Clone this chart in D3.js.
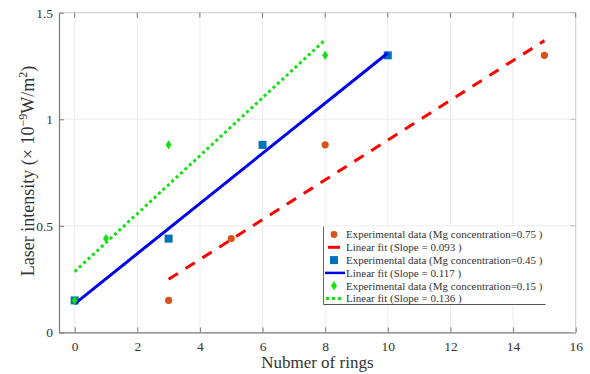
<!DOCTYPE html>
<html><head><meta charset="utf-8">
<script src="https://cdn.jsdelivr.net/npm/d3@7"></script>
<style>body{margin:0;background:#fff} svg text{font-family:"Liberation Serif","DejaVu Serif",serif !important;}</style>
</head><body>
<svg id="c" width="590" height="374"></svg>
<script>
// ---- data ----
const xTicks = [0, 2, 4, 6, 8, 10, 12, 14, 16];
const yTicks = [0, 0.5, 1, 1.5];
const yTickLabels = ["0", "0.5", "1", "1.5"];

const rings075 = [3, 5, 8, 15];
const inten075 = [0.15, 0.44, 0.88, 1.30];
const fit075X = [3, 15];
const fit075Y = [0.249, 1.369];

const rings045 = [0, 3, 6, 10];
const inten045 = [0.15, 0.44, 0.88, 1.30];
const fit045X = [0, 10];
const fit045Y = [0.134, 1.311];

const rings015 = [0, 1, 3, 8];
const inten015 = [0.15, 0.44, 0.88, 1.30];
const fit015X = [0, 8];
const fit015Y = [0.285, 1.373];

const legendLabels = [
  "Experimental data (Mg concentration=0.75 )",
  "Linear fit (Slope = 0.093 )",
  "Experimental data (Mg concentration=0.45 )",
  "Linear fit (Slope = 0.117 )",
  "Experimental data (Mg concentration=0.15 )",
  "Linear fit (Slope = 0.136 )"
];

// ---- layout ----
const svg = d3.select("#c");
const L = 59, R = 575.7, T = 12.7, B = 332.4;
const x = d3.scaleLinear().domain([-0.5, 16]).range([L, R]);
const y = d3.scaleLinear().domain([0, 1.5]).range([B, T]);
const serif = "Liberation Serif";

const cOrange = "#d95319", cRed = "#ff0000", cSq = "#0072bd", cBlue = "#0000ee", cGreen = "#11e011";

// grid
const g = svg.append("g");
g.selectAll(".gx").data(xTicks).join("line")
  .attr("x1", d => x(d)).attr("x2", d => x(d)).attr("y1", T).attr("y2", B)
  .attr("stroke", "#ececec").attr("stroke-width", 1);
g.selectAll(".gy").data(yTicks).join("line")
  .attr("x1", L).attr("x2", R).attr("y1", d => y(d)).attr("y2", d => y(d))
  .attr("stroke", "#ececec").attr("stroke-width", 1);

// box top/right
svg.append("line").attr("x1", L).attr("x2", R).attr("y1", T).attr("y2", T).attr("stroke", "#d0d0d0");
svg.append("line").attr("x1", R).attr("x2", R).attr("y1", T).attr("y2", B).attr("stroke", "#d0d0d0");

// axes
const xAxis = d3.axisBottom(x).tickValues(xTicks).tickSizeInner(-5).tickSizeOuter(0).tickPadding(9);
const yAxis = d3.axisLeft(y).tickValues(yTicks).tickFormat((d, i) => yTickLabels[i]).tickSizeInner(-5).tickSizeOuter(0).tickPadding(6);
const gx = svg.append("g").attr("transform", `translate(0,${B})`).call(xAxis);
const gy = svg.append("g").attr("transform", `translate(${L},0)`).call(yAxis);
[gx, gy].forEach(a => {
  a.attr("font-family", serif);
  a.select(".domain").attr("stroke", "#7a7a7a").attr("stroke-width", 1.2);
  a.selectAll(".tick line").attr("stroke", "#7a7a7a");
  a.selectAll("text").attr("font-family", serif).attr("font-size", 13.5).attr("fill", "#333");
});
// top ticks
svg.append("g").selectAll("line").data(xTicks).join("line")
  .attr("x1", d => x(d)).attr("x2", d => x(d)).attr("y1", T).attr("y2", T + 5).attr("stroke", "#7a7a7a");
svg.append("g").selectAll("line").data(yTicks).join("line")
  .attr("x1", R).attr("x2", R - 5).attr("y1", d => y(d)).attr("y2", d => y(d)).attr("stroke", "#bbbbbb");

// series
const line = d3.line().x(d => x(d[0])).y(d => y(d[1]));

function circles(xs, ys, col) {
  svg.append("g").selectAll("circle").data(d3.zip(xs, ys)).join("circle")
    .attr("cx", d => x(d[0])).attr("cy", d => y(d[1])).attr("r", 3.6).attr("fill", col);
}
function squares(xs, ys, col) {
  svg.append("g").selectAll("rect").data(d3.zip(xs, ys)).join("rect")
    .attr("x", d => x(d[0]) - 4).attr("y", d => y(d[1]) - 4).attr("width", 8).attr("height", 8).attr("fill", col);
}
function diamonds(xs, ys, col) {
  svg.append("g").selectAll("path").data(d3.zip(xs, ys)).join("path")
    .attr("transform", d => `translate(${x(d[0])},${y(d[1])})`)
    .attr("d", "M0,-4.5L3,0L0,4.5L-3,0Z").attr("fill", col);
}
function fit(xs, ys, col, dash, w) {
  svg.append("path").datum(d3.zip(xs, ys)).attr("d", line).attr("fill", "none")
    .attr("stroke", col).attr("stroke-width", w).attr("stroke-dasharray", dash);
}

circles(rings075, inten075, cOrange);
fit(fit075X, fit075Y, cRed, "11,9", 3);
squares(rings045, inten045, cSq);
fit(fit045X, fit045Y, cBlue, null, 3);
diamonds(rings015, inten015, cGreen);
fit(fit015X, fit015Y, cGreen, "3,3", 3);

// legend
const lg = svg.append("g");
const lx = 323.5, ly0 = 226.5, lw = 222, lh = 78;
lg.append("rect").attr("x", lx).attr("y", ly0).attr("width", lw).attr("height", lh).attr("fill", "#fff");
lg.append("line").attr("x1", lx).attr("x2", lx).attr("y1", ly0).attr("y2", ly0 + lh).attr("stroke", "#666");
lg.append("line").attr("x1", lx).attr("x2", lx + lw).attr("y1", ly0 + lh).attr("y2", ly0 + lh).attr("stroke", "#555");
const rowY = i => 234.5 + i * 12.8;
legendLabels.forEach((t, i) => {
  lg.append("text").attr("x", 346).attr("y", rowY(i)).attr("dy", "0.35em")
    .attr("font-family", serif).attr("font-size", 11).attr("fill", "#333").text(t);
});
lg.append("circle").attr("cx", 334).attr("cy", rowY(0)).attr("r", 3.4).attr("fill", cOrange);
lg.append("line").attr("x1", 328).attr("x2", 340).attr("y1", rowY(1)).attr("y2", rowY(1)).attr("stroke", cRed).attr("stroke-width", 3);
lg.append("rect").attr("x", 330).attr("y", rowY(2) - 4).attr("width", 8).attr("height", 8).attr("fill", cSq);
lg.append("line").attr("x1", 325).attr("x2", 345).attr("y1", rowY(3)).attr("y2", rowY(3)).attr("stroke", cBlue).attr("stroke-width", 2.5);
lg.append("path").attr("transform", `translate(334,${rowY(4)})`).attr("d", "M0,-4.5L3,0L0,4.5L-3,0Z").attr("fill", cGreen);
lg.append("line").attr("x1", 326).attr("x2", 344).attr("y1", rowY(5)).attr("y2", rowY(5)).attr("stroke", cGreen).attr("stroke-width", 3).attr("stroke-dasharray", "3,3");

// axis titles
svg.append("text").attr("x", (L + R) / 2).attr("y", 368).attr("text-anchor", "middle")
  .attr("font-family", serif).attr("font-size", 17).attr("fill", "#333").text("Nubmer of rings");
const yt = svg.append("text").attr("transform", "translate(34,171) rotate(-90)").attr("text-anchor", "middle")
  .attr("font-family", serif).attr("font-size", 18).attr("fill", "#333");
yt.append("tspan").text("Laser intensity (× 10");
yt.append("tspan").attr("dy", -7).attr("font-size", 12).text("−9");
yt.append("tspan").attr("dy", 7).text("W/m");
yt.append("tspan").attr("dy", -7).attr("font-size", 12).text("2");
yt.append("tspan").attr("dy", 7).text(")");
</script>
</body></html>
